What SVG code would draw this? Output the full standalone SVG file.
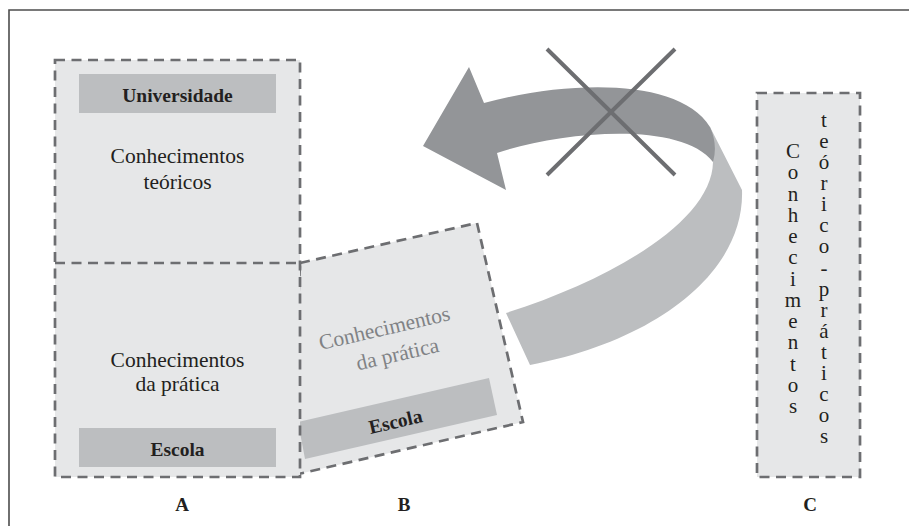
<svg xmlns="http://www.w3.org/2000/svg" width="909" height="526" viewBox="0 0 909 526" font-family="'Liberation Serif', 'DejaVu Serif', serif">
<style>
text{font-family:'Liberation Serif','DejaVu Serif',serif}
.box{fill:#e6e7e8;stroke:none}
.dash{fill:none;stroke:#6d6e71;stroke-width:2.7;stroke-dasharray:10 6.5}
.bar{fill:#bcbec0}
.t{font-size:21.5px;fill:#231f20;text-anchor:middle}
.tb{font-size:19.5px;font-weight:bold;fill:#231f20;text-anchor:middle}
.tg{fill:#808285}
.v{font-size:21px;fill:#231f20;text-anchor:middle}
.lab{font-size:19px;font-weight:bold;fill:#231f20;text-anchor:middle}
</style>
<rect width="909" height="526" fill="#ffffff"/>
<path d="M9,526 V10 H909" fill="none" stroke="#4d4d4d" stroke-width="1.6"/>

<g id="nodeB">
<polygon class="box" points="300,263 477,223 523,422 290,476"/>
<polygon class="dash" points="300,263 477,223 523,422 290,476"/>
<polygon class="bar" points="298,422 489,378 497,415 305,459"/>
<text class="t tg" transform="translate(386,335) rotate(-13)">Conhecimentos</text>
<text class="t tg" transform="translate(399,361) rotate(-13)">da prática</text>
<text class="tb" transform="translate(397,428) rotate(-13)">Escola</text>
</g>

<g id="nodeA">
<rect class="box" x="55" y="60" width="245" height="417"/>
<rect class="dash" x="55" y="60" width="245" height="417"/>
<line class="dash" x1="55" y1="263" x2="300" y2="263"/>
<rect class="bar" x="79" y="74" width="197" height="39"/>
<text class="tb" x="177.5" y="102">Universidade</text>
<text class="t" x="177.5" y="163">Conhecimentos</text>
<text class="t" x="177.5" y="188.5">teóricos</text>
<text class="t" x="177.5" y="367">Conhecimentos</text>
<text class="t" x="177.5" y="391">da prática</text>
<rect class="bar" x="79" y="428" width="197" height="39"/>
<text class="tb" x="177.5" y="456">Escola</text>
</g>

<g id="nodeC">
<rect class="box" x="757" y="93" width="103" height="384"/>
<rect class="dash" x="757" y="93" width="103" height="384"/>
<text class="v" x="793 793 793 793 793 793 793 793 793 793 793 793 793" y="158 179.25 200.5 221.75 243 264.25 285.5 306.75 328 349.25 370.5 391.75 413">Conhecimentos</text>
<text class="v" x="824 824 824 824 824 824 824 824 824 824 824 824 824 824 824 824" y="127 148.1 169.1 190.2 211.3 232.4 253.4 274.5 295.6 316.6 337.7 358.8 379.8 400.9 422 443">teórico-práticos</text>
</g>

<g id="connectors">
<path d="M710,127 L742,190 C745,270 660,340 530,365 L506,313 C610,280 712,222 713,162 Z" fill="#bcbec0"/>
<path d="M423,146 L469,67 L484,103 C570,80 680,78 710,127 Q718,145 713,162 C680,120 560,132 497,153 L506,190 Z" fill="#939598"/>
<path d="M547,49 L675,175 M675,49 L547,175" stroke="#6d6e71" stroke-width="4" fill="none"/>
</g>

<text class="lab" x="182" y="511">A</text>
<text class="lab" x="404" y="511">B</text>
<text class="lab" x="810" y="511">C</text>
</svg>
